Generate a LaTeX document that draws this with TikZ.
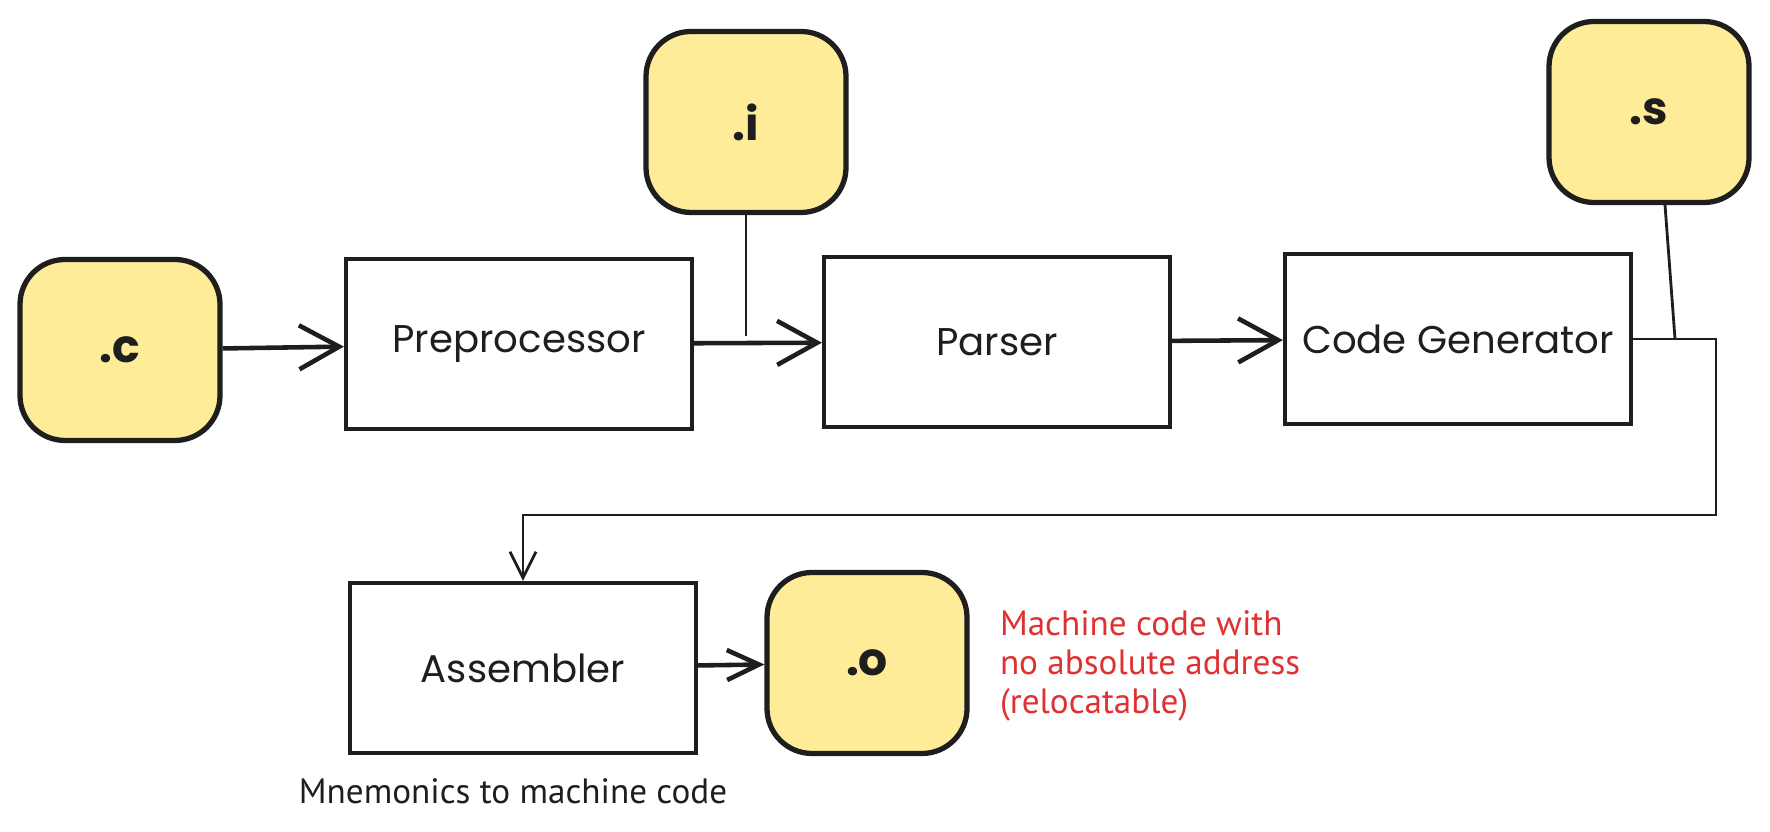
\documentclass[tikz,border=0pt]{standalone}
\usepackage{fontspec}
\setmainfont{Poppins}
\newfontfamily\notefont{PT Sans}
\usepackage{tikz}
\usetikzlibrary{arrows.meta}
\definecolor{ink}{HTML}{1E1E1E}
\definecolor{filefill}{HTML}{FFEC99}
\definecolor{notered}{HTML}{E03131}
\tikzset{>={Straight Barb[length=4mm,width=4.4mm]}}

\begin{document}
\begin{tikzpicture}[ink,line width=1.3pt,
	stage/.style={draw,line width=1.2pt,minimum width=3.46cm,minimum height=1.70cm,font=\fontsize{11}{13}\selectfont},
	file/.style={draw,fill=filefill,rounded corners=4.5mm,line width=1.5pt,minimum width=2cm,minimum height=1.81cm,font=\fontsize{13}{15}\selectfont\bfseries},
	note/.style={align=left,font=\notefont\fontsize{10}{11.2}\selectfont}]
	\useasboundingbox (0,0) rectangle (17.7,8.32);
	% files
	\node[file] (c) at (1.20,4.82) {.c};
	\node[file] (i) at (7.46,7.10) {.i};
	\node[file] (s) at (16.49,7.20) {.s};
	\node[file] (o) at (8.67,1.69) {.o};
	% stages
	\node[stage] (pre) at (5.19,4.88) {Preprocessor};
	\node[stage] (parser) at (9.97,4.90) {Parser};
	\node[stage] (cg) at (14.58,4.93) {Code Generator};
	\node[stage] (asm) at (5.23,1.64) {Assembler};
	% notes
	\node[note,text=notered,anchor=west] (relnote) at (9.86,1.66) {Machine code with\\no absolute address\\(relocatable)};
	\node[note] (asmnote) at (5.13,0.41) {Mnemonics to machine code};
	% flow
	\coordinate (bend) at (17.16,3.17);
	\coordinate (sjoin) at (16.75,4.93);
	\draw[->] (c) -- (pre);
	\draw[->] (pre) -- (parser);
	\draw[line width=0.8pt] (i) -- ([yshift=0.8mm]i |- pre);
	\draw[->] (parser) -- (cg);
	\draw[line width=0.8pt] ([xshift=1.6mm]s.south) -- (sjoin);
	\draw[line width=0.8pt,-{Straight Barb[length=2.6mm,width=2.6mm]}] (cg.east) -| (bend) -| (asm.north);
	\draw[-{Straight Barb[length=3.2mm,width=3mm]}] (asm) -- (o);
\end{tikzpicture}
\end{document}
